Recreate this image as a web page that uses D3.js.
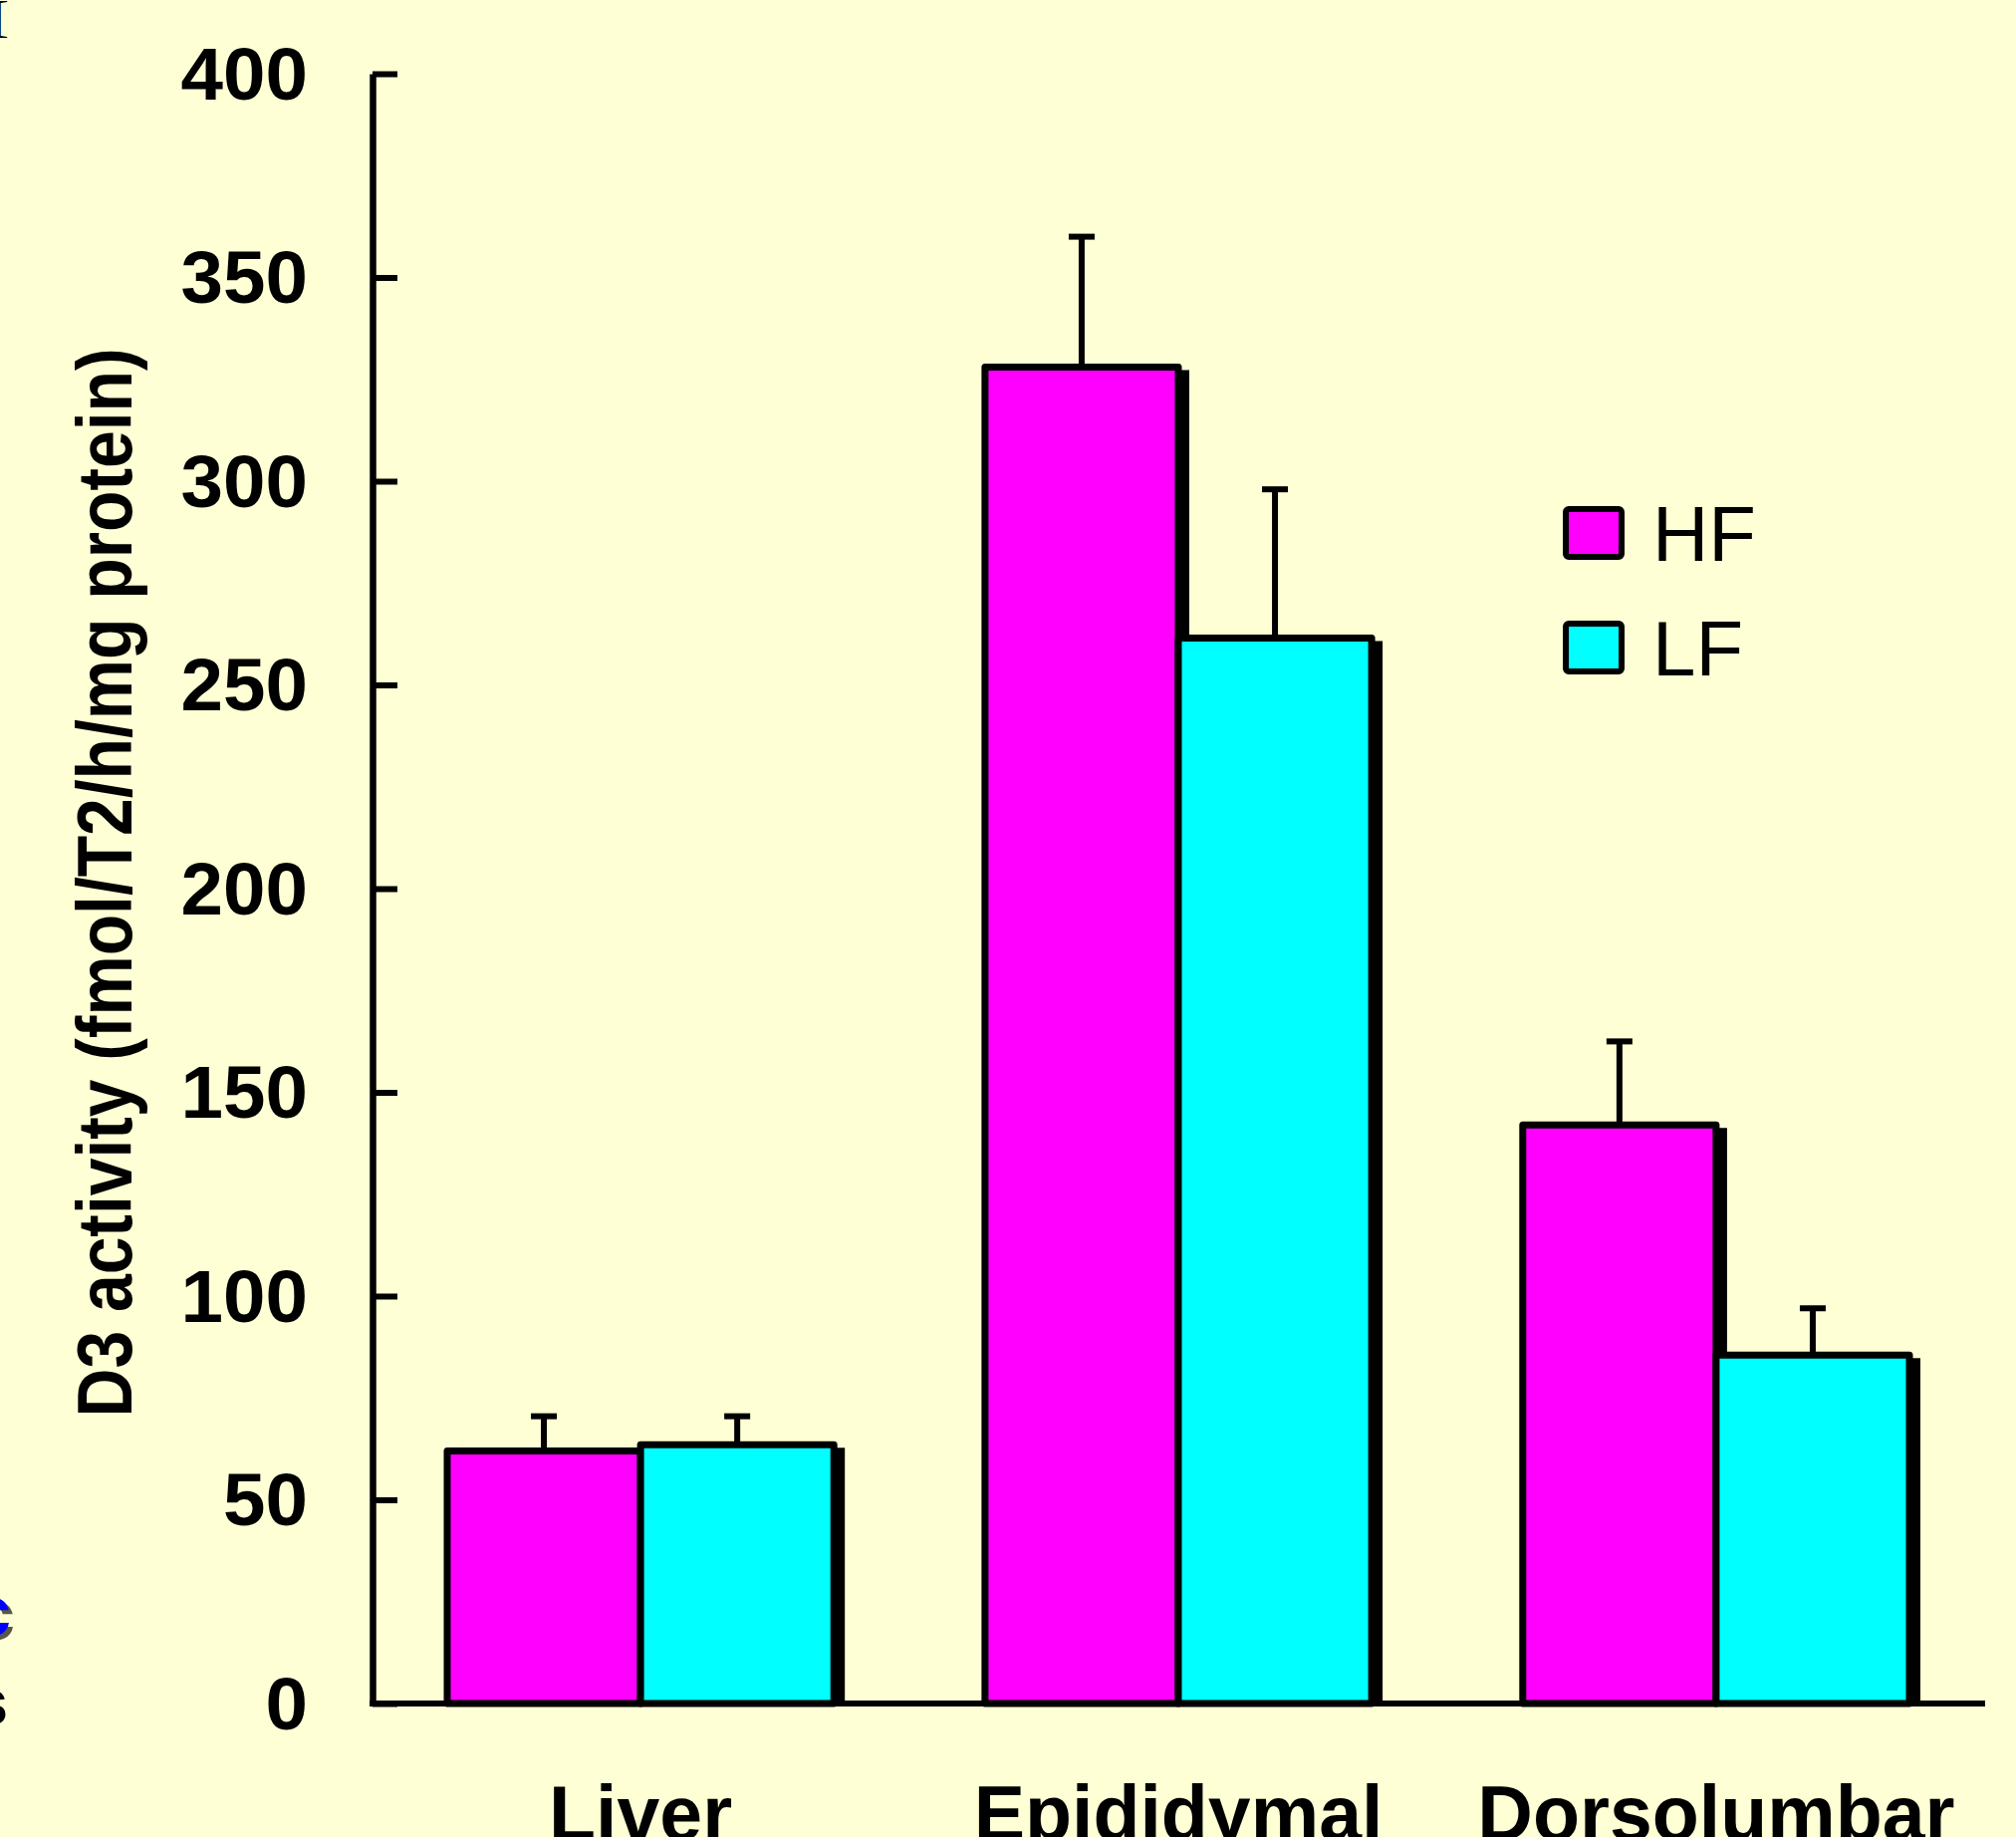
<!DOCTYPE html>
<html>
<head>
<meta charset="utf-8">
<script src="https://cdn.jsdelivr.net/npm/d3@7"></script>
<style>
  html, body { margin: 0; padding: 0; background: #ffffd5; }
  svg { display: block; font-family: 'Liberation Sans', Arial, sans-serif; }
</style>
</head>
<body>
<div id="chart"></div>
<script>
// data
const categories = ['Liver', 'Epididymal', 'Dorsolumbar'];
const seriesNames = ['HF', 'LF'];
const hfValues = [62, 328, 142];
const hfErrors = [8.5, 32, 20.5];
const lfValues = [63.5, 261.5, 85.5];
const lfErrors = [7, 36.5, 11.5];
const yTicks = [0, 50, 100, 150, 200, 250, 300, 350, 400];
const seriesColors = ['#ff00ff', '#00ffff'];

const width = 2024, height = 1844;
const svg = d3.select('#chart').append('svg').attr('width', width).attr('height', height);
svg.append('rect').attr('width', width).attr('height', height).attr('fill', '#ffffd5');

const axisX = 374, baseY = 1710, topY = 74;
const y = d3.scaleLinear().domain([0, 400]).range([baseY, topY]);
const x0 = d3.scaleBand().domain(categories).range([449, 1917]).paddingInner(0.281);
const x1 = d3.scaleBand().domain(seriesNames).range([0, x0.bandwidth()]);
const color = d3.scaleOrdinal().domain(seriesNames).range(seriesColors);

const rows = categories.map((c, i) => ({
  cat: c,
  bars: [
    { s: 'HF', v: hfValues[i], e: hfErrors[i] },
    { s: 'LF', v: lfValues[i], e: lfErrors[i] }
  ]
}));

// stray bits of slide text at the left edge
svg.append('text').attr('x', -6).attr('y', 32).attr('font-size', 44)
  .attr('font-family', 'Liberation Serif, serif').text('[');
svg.append('text').attr('x', 15).attr('y', 1646).attr('text-anchor', 'end')
  .attr('font-size', 72).attr('font-weight', 'bold').attr('fill', '#111').attr('opacity', 0.7).text('c');
svg.append('text').attr('x', 11).attr('y', 1642).attr('text-anchor', 'end')
  .attr('font-size', 72).attr('font-weight', 'bold').attr('fill', '#0000ff').text('c');
svg.append('text').attr('x', 8).attr('y', 1731).attr('text-anchor', 'end')
  .attr('font-size', 64).attr('font-weight', 'bold').text('s');

// bars with drop shadow
const groups = svg.selectAll('.grp').data(rows).enter().append('g')
  .attr('class', 'grp').attr('transform', d => `translate(${x0(d.cat)},0)`);

groups.each(function (d) {
  const g = d3.select(this);
  d.bars.forEach(b => {
    const bx = x1(b.s), by = y(b.v), bw = x1.bandwidth();
    g.append('rect')
      .attr('x', bx + 4).attr('y', by + 3)
      .attr('width', bw + 7).attr('height', baseY - by - 3)
      .attr('fill', '#000');
    g.append('rect')
      .attr('x', bx).attr('y', by)
      .attr('width', bw).attr('height', baseY - by)
      .attr('fill', color(b.s)).attr('stroke', '#000')
      .attr('stroke-width', 7).attr('stroke-linejoin', 'round');
  });
});

// error bars (upper only)
groups.each(function (d) {
  const g = d3.select(this);
  d.bars.forEach(b => {
    const cx = x1(b.s) + x1.bandwidth() / 2;
    g.append('line').attr('x1', cx).attr('x2', cx)
      .attr('y1', y(b.v) - 3).attr('y2', y(b.v + b.e))
      .attr('stroke', '#000').attr('stroke-width', 6);
    g.append('line').attr('x1', cx - 13).attr('x2', cx + 13)
      .attr('y1', y(b.v + b.e)).attr('y2', y(b.v + b.e))
      .attr('stroke', '#000').attr('stroke-width', 6);
  });
});

// y axis
svg.append('g').attr('transform', `translate(${axisX},0)`)
  .call(d3.axisLeft(y).tickValues(yTicks).tickSize(-25).tickSizeOuter(0).tickPadding(65))
  .attr('font-family', "'Liberation Sans', Arial, sans-serif")
  .attr('font-size', 74).attr('font-weight', 'bold')
  .call(g => g.select('.domain').attr('stroke', '#000').attr('stroke-width', 6.5))
  .call(g => g.selectAll('.tick line').attr('stroke', '#000').attr('stroke-width', 6))
  .call(g => g.selectAll('.tick text').attr('fill', '#000').attr('dy', '0.34em')
    .attr('textLength', d => String(d).length * 42.5).attr('lengthAdjust', 'spacingAndGlyphs'));

// baseline
svg.append('line').attr('x1', axisX - 3).attr('x2', 1993)
  .attr('y1', baseY).attr('y2', baseY)
  .attr('stroke', '#000').attr('stroke-width', 6);

// x labels
svg.append('g').attr('transform', `translate(0,${baseY})`)
  .call(d3.axisBottom(x0).tickSize(0))
  .attr('font-family', "'Liberation Sans', Arial, sans-serif")
  .attr('font-size', 77).attr('font-weight', 'bold')
  .call(g => g.select('.domain').remove())
  .call(g => g.selectAll('.tick text').attr('fill', '#000').attr('y', 137).attr('dy', 0));

// y title
svg.append('text')
  .attr('transform', 'translate(132,886) rotate(-90)')
  .attr('text-anchor', 'middle')
  .attr('font-size', 78).attr('font-weight', 'bold')
  .attr('textLength', 1073).attr('lengthAdjust', 'spacingAndGlyphs')
  .text('D3 activity (fmol/T2/h/mg protein)');

// legend
const legend = svg.append('g').selectAll('g').data(seriesNames).enter().append('g')
  .attr('transform', (d, i) => `translate(1572,${511 + i * 115})`);
legend.append('rect').attr('width', 56).attr('height', 48).attr('rx', 3)
  .attr('fill', d => color(d)).attr('stroke', '#000').attr('stroke-width', 6);
legend.append('text').attr('x', 87).attr('y', 52)
  .attr('font-size', 78).text(d => d);
</script>
</body>
</html>
